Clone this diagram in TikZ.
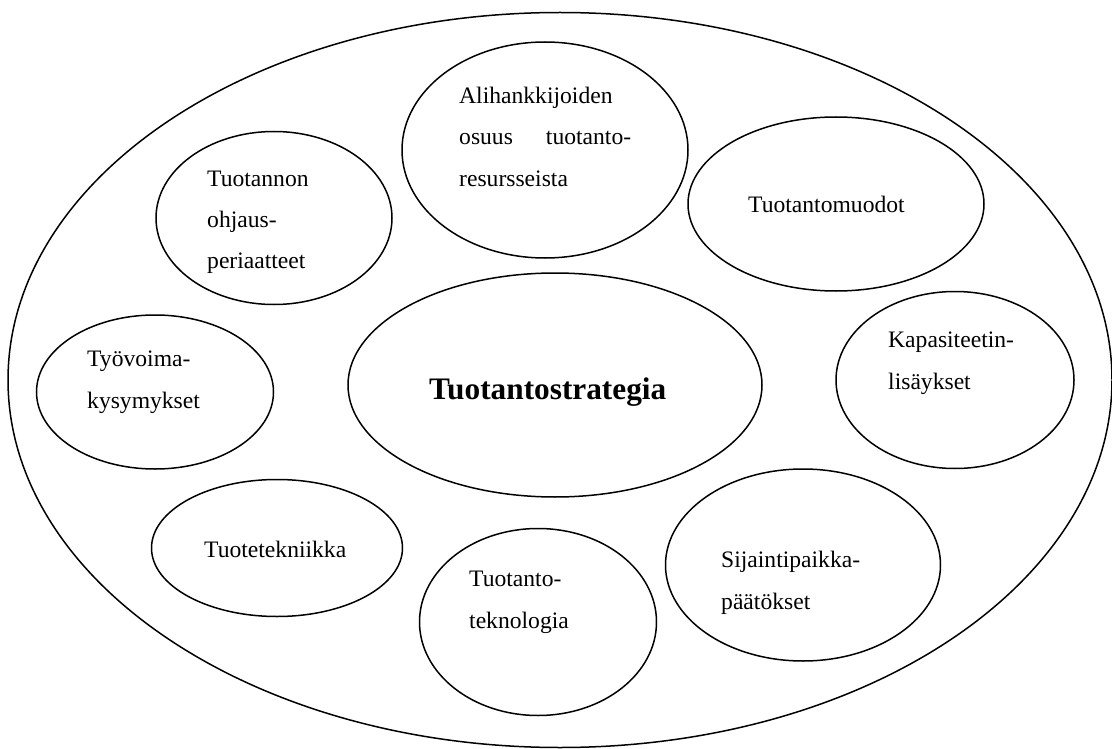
\documentclass[tikz,border=0pt]{standalone}
\usepackage{fontspec}
\setmainfont{Liberation Serif}
\usepackage{tikz}
\usetikzlibrary{shapes}
\tikzstyle{area} = [ellipse,draw=black,line width=1.5pt,inner sep=0pt]
\tikzstyle{txt} = [anchor=base west,align=left,inner sep=0pt,
font=\fontsize{23.6}{41.5}\selectfont]
\tikzstyle{core} = [txt,font=\fontsize{31.3}{36}\selectfont\bfseries]

\begin{document}
\begin{tikzpicture}[x=1pt,y=-1pt]
    \useasboundingbox (0,0) rectangle (1112,749);
    \node[area,minimum width=1104pt,minimum height=735pt](outer) at (560,380) {};
    \node[area,minimum width=414pt,minimum height=224pt](strat) at (555,385) {};
    \node[area,minimum width=286pt,minimum height=216pt](ali) at (545,150) {};
    \node[area,minimum width=236pt,minimum height=173pt](ohj) at (274,218) {};
    \node[area,minimum width=296pt,minimum height=174pt](muod) at (836,204) {};
    \node[area,minimum width=238pt,minimum height=177pt](kap) at (955,380) {};
    \node[area,minimum width=237pt,minimum height=154pt](tyo) at (155,392) {};
    \node[area,minimum width=251pt,minimum height=137pt](tek) at (277,548) {};
    \node[area,minimum width=237pt,minimum height=187pt](tekn) at (538,622) {};
    \node[area,minimum width=275pt,minimum height=192pt](sij) at (803,565) {};
    % texts (multi-line ones sit on the baseline of their last line)
    \node[core](strat-t) at (429,399) {Tuotantostrategia};
    \node[txt](ali-t) at (459,186) {Alihankkijoiden\\
      \makebox[172pt][s]{osuus tuotanto-}\\ resursseista};
    \node[txt](ohj-t) at (207,269) {Tuotannon\\ ohjaus-\\ periaatteet};
    \node[txt](muod-t) at (748,213) {Tuotantomuodot};
    \node[txt](kap-t) at (888,389) {Kapasiteetin-\\ lisäykset};
    \node[txt](tyo-t) at (87,408) {Työvoima-\\ kysymykset};
    \node[txt](tek-t) at (204,557) {Tuotetekniikka};
    \node[txt](tekn-t) at (469,628) {Tuotanto-\\ teknologia};
    \node[txt](sij-t) at (721,609) {Sijaintipaikka-\\ päätökset};
\end{tikzpicture}
\end{document}
